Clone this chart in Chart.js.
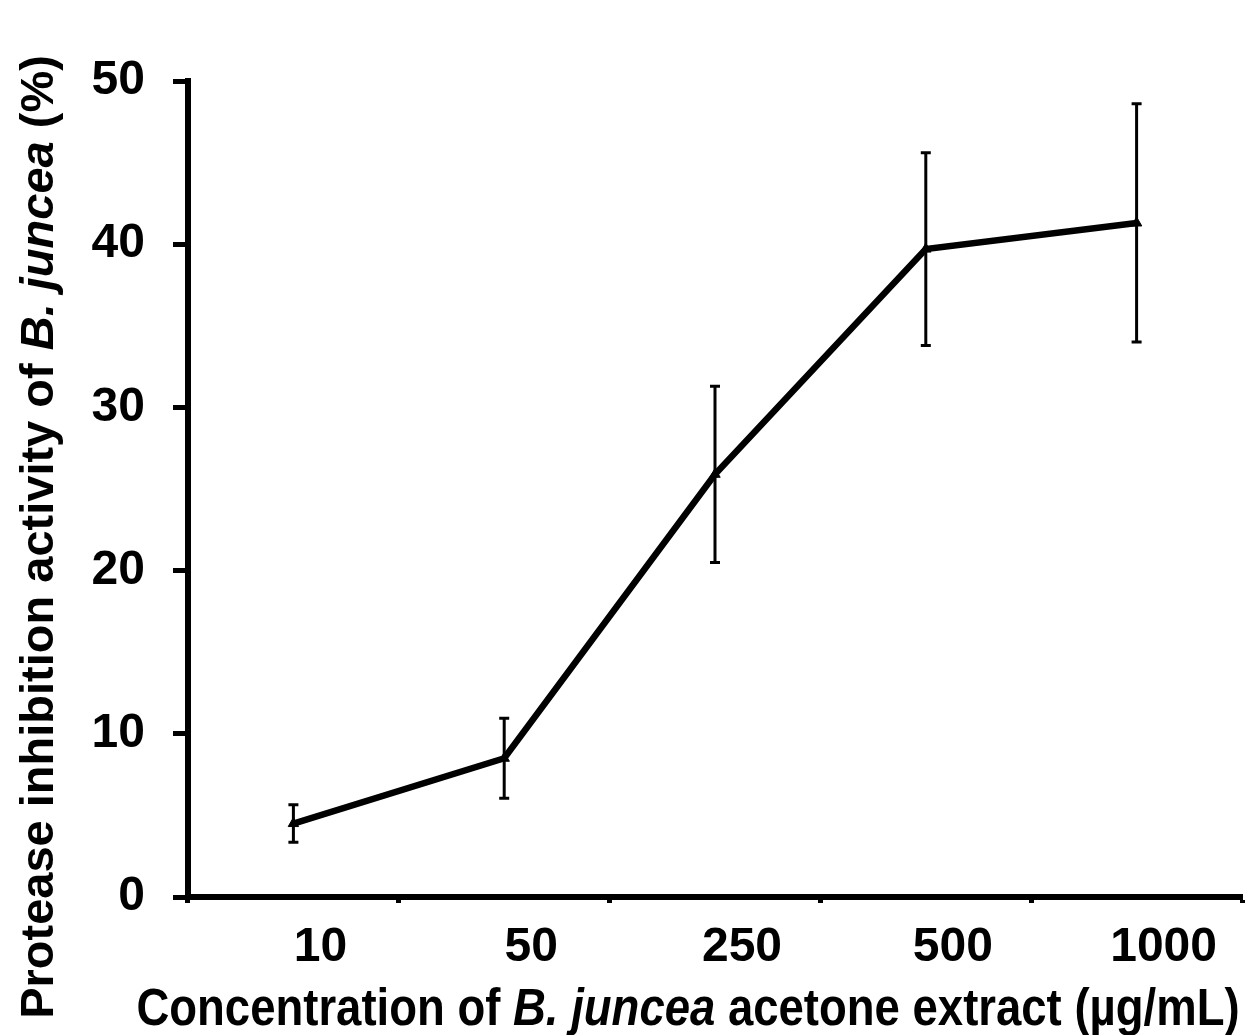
<!DOCTYPE html>
<html>
<head>
<meta charset="utf-8">
<script src="https://cdn.jsdelivr.net/npm/chart.js@4.4.0/dist/chart.umd.min.js"></script>
<style>
    html, body { margin: 0; padding: 0; background: #fff; }
    #wrap { width: 1254px; height: 1035px; }
</style>
</head>
<body>
<div id="wrap"><canvas id="chart"></canvas></div>
<script>
/* ================= DATA ================= */
const concentrations = ['10', '50', '250', '500', '1000'];
const inhibition = [4.5, 8.5, 25.9, 39.7, 41.3];
const inhibitionErr = [1.15, 2.45, 5.4, 5.9, 7.3];
const yMin = 0;
const yMax = 50;
const yStep = 10;

const xTitle = [
    { text: 'Concentration of ', italic: false },
    { text: 'B. juncea', italic: true },
    { text: ' acetone extract (µg/mL)', italic: false }
];
const yTitle = [
    { text: 'Protease inhibition activity of ', italic: false },
    { text: 'B. juncea', italic: true },
    { text: ' (%)', italic: false }
];

const FONT = '"Liberation Sans", Arial, sans-serif';

/* ================= HELPERS ================= */
// draws mixed upright / italic text centred on cx, baseline at y
function drawRich(ctx, parts, cx, y, size) {
    const fontFor = p => (p.italic ? 'italic ' : '') + 'bold ' + size + 'px ' + FONT;
    let total = 0;
    parts.forEach(p => { ctx.font = fontFor(p); total += ctx.measureText(p.text).width; });
    let x = cx - total / 2;
    ctx.textBaseline = 'alphabetic';
    ctx.textAlign = 'left';
    ctx.fillStyle = '#000';
    parts.forEach(p => {
        ctx.font = fontFor(p);
        ctx.fillText(p.text, x, y);
        x += ctx.measureText(p.text).width;
    });
}

// error bars drawn through the chart's own scales
const errorBarPlugin = {
    id: 'errorBars',
    afterDatasetsDraw(chart) {
        const ctx = chart.ctx;
        const xs = chart.scales.x;
        const ys = chart.scales.y;
        ctx.save();
        ctx.strokeStyle = '#000';
        ctx.lineWidth = 3;
        inhibition.forEach((v, i) => {
            const x = xs.getPixelForValue(i);
            const top = ys.getPixelForValue(v + inhibitionErr[i]);
            const bot = ys.getPixelForValue(v - inhibitionErr[i]);
            ctx.beginPath();
            ctx.moveTo(x, top); ctx.lineTo(x, bot);
            ctx.moveTo(x - 5, top); ctx.lineTo(x + 5, top);
            ctx.moveTo(x - 5, bot); ctx.lineTo(x + 5, bot);
            ctx.stroke();
        });
        ctx.restore();
    }
};

const titlePlugin = {
    id: 'axisTitles',
    afterDraw(chart) {
        const ctx = chart.ctx;
        // x title (slightly stretched vertically like the original)
        ctx.save();
        ctx.translate(0, 1025);
        ctx.scale(1, 1.13);
        drawRich(ctx, xTitle, 688, 0, 45.5);
        ctx.restore();
        // y title
        ctx.save();
        ctx.translate(53, 537);
        ctx.rotate(-Math.PI / 2);
        drawRich(ctx, yTitle, 0, 0, 47);
        ctx.restore();
    }
};

/* ================= CHART ================= */
new Chart(document.getElementById('chart'), {
    type: 'line',
    data: {
        labels: concentrations,
        datasets: [{
            data: inhibition,
            borderColor: '#000',
            borderWidth: 6.5,
            backgroundColor: '#000',
            pointStyle: 'triangle',
            pointRadius: 6,
            pointBorderWidth: 1,
            tension: 0
        }]
    },
    options: {
        responsive: true,
        maintainAspectRatio: false,
        animation: false,
        layout: { padding: { left: 0, top: 81, right: 12, bottom: 0 } },
        plugins: { legend: { display: false }, tooltip: { enabled: false } },
        scales: {
            x: {
                offset: true,
                grid: {
                    offset: true, drawOnChartArea: false, drawTicks: true,
                    tickLength: 6, tickWidth: 5, tickColor: '#000'
                },
                border: { color: '#000', width: 6 },
                ticks: {
                    color: '#000', padding: 16, labelOffset: 27,
                    maxRotation: 0,
                    font: { family: FONT, size: 48, weight: 'bold' }
                },
                afterFit(scale) { scale.height = 138; }
            },
            y: {
                min: yMin, max: yMax,
                grid: {
                    drawOnChartArea: false, drawTicks: true,
                    tickLength: 15, tickWidth: 5, tickColor: '#000'
                },
                border: { color: '#000', width: 6 },
                ticks: {
                    stepSize: yStep, color: '#000', padding: 28,
                    font: { family: FONT, size: 48, weight: 'bold' }
                },
                afterFit(scale) { scale.width = 188; }
            }
        }
    },
    plugins: [errorBarPlugin, titlePlugin]
});
</script>
</body>
</html>
